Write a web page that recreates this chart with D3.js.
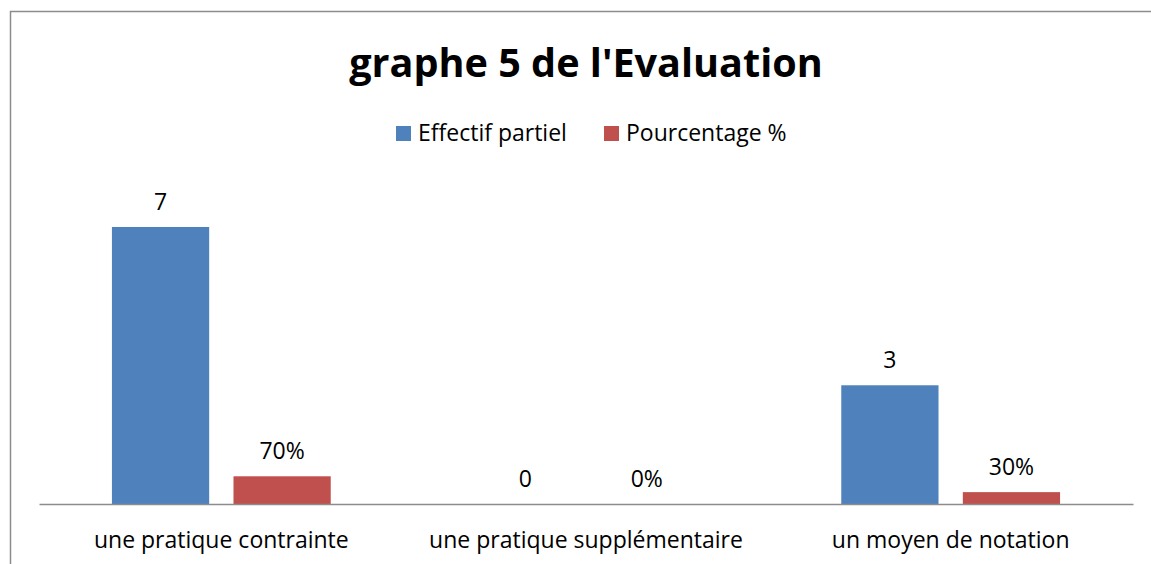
<!DOCTYPE html>
<html><head><meta charset="utf-8">
<script src="https://cdn.jsdelivr.net/npm/d3@7"></script>
<style>body{margin:0;background:#fff}svg{display:block}text{font-family:"Open Sans",sans-serif;fill:#000}</style>
</head><body><svg id="c" width="1151" height="564"></svg>
<script>
const categories = ["une pratique contrainte","une pratique supplémentaire","un moyen de notation"];
const seriesNames = ["Effectif partiel","Pourcentage %"];
const effectif = [7, 0, 3];
const pourcentage = [0.7, 0, 0.3];
const pctLabels = ["70%","0%","30%"];
const colors = ["#4F81BD","#C0504D"];
const title = "graphe 5 de l'Evaluation";

const svg = d3.select("#c");
// chart border (left and top visible)
svg.append("path").attr("d","M10.5,564 V11.5 H1151").attr("fill","none").attr("stroke","#8c8c8c").attr("stroke-width",1.5);

const x0 = d3.scaleBand().domain(categories).range([39,1133]).paddingInner(0).paddingOuter(0);
const bw = x0.bandwidth();
const x1 = d3.scaleBand().domain([0,1]).range([bw*0.2, bw*0.8]).paddingInner(0.2).paddingOuter(0);
const y = d3.scaleLinear().domain([0,8]).range([504,187.4]);

const data = categories.map((c,i)=>[
  {c, s:0, v:effectif[i], lab:String(effectif[i])},
  {c, s:1, v:pourcentage[i], lab:pctLabels[i]}
]);

const g = svg.append("g");
const grp = g.selectAll("g.cat").data(data).join("g").attr("transform",(d,i)=>`translate(${x0(categories[i])},0)`);
grp.selectAll("rect").data(d=>d).join("rect")
  .attr("x",d=>x1(d.s)).attr("width",x1.bandwidth())
  .attr("y",d=>y(d.v)).attr("height",d=>y(0)-y(d.v))
  .attr("fill",d=>colors[d.s]);
grp.selectAll("text").data(d=>d).join("text")
  .attr("x",d=>x1(d.s)+x1.bandwidth()/2).attr("y",d=>y(d.v)-17)
  .attr("text-anchor","middle").attr("font-size",23).text(d=>d.lab);

// axis
const xAxis = svg.append("g").attr("transform","translate(0,504)").call(d3.axisBottom(x0).tickSize(0).tickPadding(28));
xAxis.select(".domain").attr("stroke","#8c8c8c").attr("stroke-width",1.5);
xAxis.selectAll("text").attr("font-size",23).style("font-family","'Open Sans',sans-serif").attr("fill","#000");

// title
svg.append("text").attr("x",586).attr("y",77).attr("text-anchor","middle")
  .attr("font-size",39.6).attr("font-weight","bold").text(title);

// legend
const leg = svg.append("g");
const legX = [396, 604];
seriesNames.forEach((n,i)=>{
  leg.append("rect").attr("x",legX[i]).attr("y",126).attr("width",15).attr("height",15).attr("fill",colors[i]);
  leg.append("text").attr("x",legX[i]+22).attr("y",141).attr("font-size",23).text(n);
});
</script></body></html>
